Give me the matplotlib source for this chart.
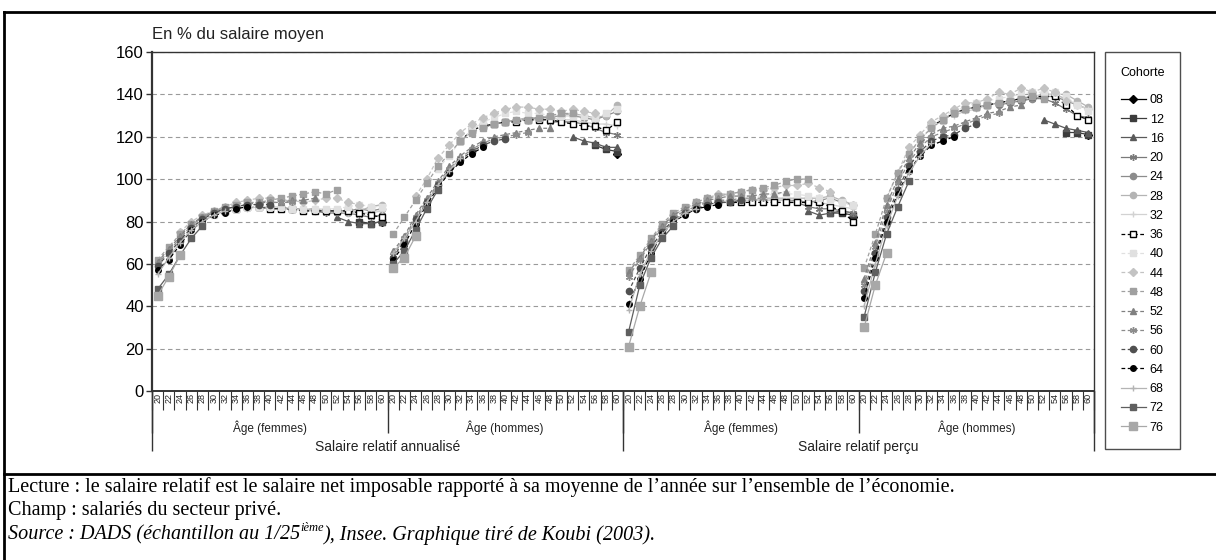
import numpy as np
import matplotlib
matplotlib.use('Agg')
import matplotlib.pyplot as plt
from matplotlib.lines import Line2D

plt.rcParams['font.family'] = ['Liberation Sans', 'DejaVu Sans']

# Cohorts (year of birth, 19xx) and first age index observed in each panel
COHORTS = ['08', '12', '16', '20', '24', '28', '32', '36', '40',
           '44', '48', '52', '56', '60', '64', '68', '72', '76']
START = [20, 18, 16, 14, 12, 10, 8, 6, 4, 2, 0, 0, 0, 0, 0, 0, 0, 0]

AGES = [20, 22, 24, 26, 28, 30, 32, 34, 36, 38, 40,
        42, 44, 46, 48, 50, 52, 54, 56, 58, 60]

PANEL_LABELS = ['Âge (femmes)', 'Âge (hommes)', 'Âge (femmes)', 'Âge (hommes)']
GROUP_LABELS = ['Salaire relatif annualisé', 'Salaire relatif perçu']

# Salaire relatif annualisé - femmes
ANNU_F = [
    [80],
    [80, 79, 80],
    [82, 80, 79, 79, 80],
    [85, 84, 84, 84, 83, 82, 83],
    [86, 86, 85, 85, 85, 85, 86, 85, 86],
    [87, 87, 86, 86, 86, 85, 85, 84, 85, 87, 88],
    [86, 87, 87, 86, 86, 85, 85, 85, 85, 84, 84, 84, 85],
    [85, 86, 87, 87, 86, 86, 86, 85, 85, 85, 85, 85, 84, 83, 82],
    [80, 83, 85, 86, 87, 87, 87, 87, 86, 86, 86, 86, 86, 87, 88, 87, 87],
    [75, 80, 83, 85, 87, 89, 90, 91, 91, 90, 90, 89, 90, 91, 91, 89, 88],
    [62, 68, 74, 79, 82, 85, 87, 88, 89, 89, 90, 91, 92, 93, 94, 93, 95],
    [61, 67, 73, 79, 82, 84, 86, 87, 88, 89, 89, 89, 90, 90, 91],
    [60, 66, 72, 78, 82, 85, 86, 87, 88, 88, 89, 89, 89],
    [59, 65, 71, 77, 81, 84, 86, 87, 88, 88, 88],
    [57, 62, 69, 76, 80, 83, 84, 86, 87],
    [55, 63, 70, 76, 80, 83, 85],
    [48, 55, 64, 72, 78],
    [45, 54, 64],
]

# Salaire relatif annualisé - hommes
ANNU_H = [
    [112],
    [116, 114, 113],
    [120, 118, 117, 115, 115],
    [127, 127, 127, 126, 124, 122, 121],
    [128, 129, 129, 130, 130, 129, 128, 130, 132],
    [127, 128, 129, 129, 130, 130, 131, 130, 129, 130, 135],
    [124, 126, 127, 128, 128, 128, 129, 128, 128, 127, 126, 126, 125],
    [118, 123, 125, 126, 127, 127, 128, 128, 128, 127, 126, 125, 125, 123, 127],
    [105, 111, 118, 123, 127, 129, 131, 132, 131, 131, 130, 130, 130, 130, 129, 131, 133],
    [92, 100, 110, 116, 122, 126, 129, 131, 133, 134, 134, 133, 133, 132, 133, 132, 131],
    [74, 82, 90, 98, 106, 112, 118, 122, 124, 126, 127, 128, 128, 129, 130, 131, 131],
    [66, 73, 83, 91, 99, 106, 111, 115, 118, 120, 121, 122, 123, 124, 124],
    [64, 72, 82, 90, 98, 105, 110, 114, 117, 119, 120, 121, 122],
    [63, 71, 81, 89, 97, 103, 109, 113, 116, 118, 119],
    [62, 69, 79, 88, 96, 103, 108, 112, 115],
    [65, 72, 80, 89, 97, 104, 110],
    [60, 66, 76, 86, 95],
    [58, 63, 73],
]

# Salaire relatif perçu - femmes
PERC_F = [
    [82],
    [84, 84, 83],
    [85, 83, 84, 85, 84],
    [89, 89, 87, 86, 86, 85, 84],
    [90, 90, 90, 90, 89, 90, 91, 89, 88],
    [90, 90, 91, 91, 91, 91, 91, 91, 92, 90, 88],
    [89, 90, 90, 90, 90, 90, 90, 89, 89, 89, 88, 87, 86],
    [88, 89, 89, 89, 89, 89, 89, 89, 89, 89, 89, 89, 87, 85, 80],
    [83, 86, 88, 89, 90, 91, 92, 92, 92, 93, 93, 93, 92, 91, 90, 89, 88],
    [71, 78, 83, 86, 89, 91, 93, 93, 94, 95, 95, 96, 97, 97, 98, 96, 94],
    [57, 64, 72, 79, 84, 87, 89, 91, 92, 93, 94, 95, 96, 97, 99, 100, 100],
    [56, 63, 71, 78, 83, 86, 88, 90, 91, 92, 92, 92, 93, 93, 94],
    [54, 62, 70, 77, 82, 85, 87, 89, 90, 90, 91, 91, 91],
    [47, 58, 68, 75, 81, 84, 86, 88, 89, 89, 90],
    [41, 53, 65, 74, 80, 83, 86, 87, 88],
    [38, 55, 66, 74, 80, 84, 86],
    [28, 50, 63, 72, 78],
    [21, 40, 56],
]

# Salaire relatif perçu - hommes
PERC_H = [
    [121],
    [122, 122, 121],
    [128, 126, 124, 123, 122],
    [137, 138, 138, 136, 133, 130, 129],
    [135, 136, 137, 138, 139, 139, 137, 135, 133],
    [134, 135, 136, 137, 138, 139, 140, 140, 140, 137, 134],
    [130, 132, 133, 135, 136, 137, 138, 139, 140, 140, 138, 135, 133],
    [125, 128, 131, 133, 134, 135, 136, 137, 138, 139, 139, 139, 135, 130, 128],
    [112, 118, 125, 129, 132, 134, 136, 137, 138, 139, 140, 141, 141, 141, 139, 135, 132],
    [91, 103, 115, 121, 127, 130, 133, 136, 136, 138, 141, 140, 143, 141, 143, 141, 137],
    [58, 74, 91, 103, 112, 119, 124, 128, 131, 133, 134, 135, 136, 137, 138, 139, 138],
    [53, 70, 88, 100, 110, 117, 121, 124, 125, 127, 129, 131, 132, 134, 135],
    [50, 68, 85, 98, 108, 115, 120, 122, 124, 126, 128, 130, 131],
    [47, 65, 82, 95, 106, 113, 118, 120, 121, 124, 126],
    [44, 63, 80, 93, 104, 111, 116, 118, 120],
    [40, 60, 78, 92, 103, 111, 117],
    [35, 56, 74, 87, 99],
    [30, 50, 65],
]

PANELS = [ANNU_F, ANNU_H, PERC_F, PERC_H]

# styles: colour, marker, linestyle, marker face, marker size
ASTER = (6, 2, 0)
STYLES = [
    ('#000000', 'D', '-', None, 4.0),
    ('#3c3c3c', 's', '-', None, 4.5),
    ('#5a5a5a', '^', '-', None, 4.5),
    ('#7a7a7a', ASTER, '-', None, 5.0),
    ('#8c8c8c', 'o', '-', None, 4.5),
    ('#b4b4b4', 'o', '-', None, 4.5),
    ('#d2d2d2', '+', '-', None, 5.0),
    ('#000000', 's', '--', 'white', 4.5),
    ('#e0e0e0', 's', '--', None, 5.0),
    ('#c3c3c3', 'D', '--', None, 4.5),
    ('#a0a0a0', 's', '--', None, 4.5),
    ('#808080', '^', '--', None, 4.5),
    ('#8c8c8c', ASTER, '--', None, 5.0),
    ('#505050', 'o', '--', None, 4.5),
    ('#000000', 'o', '--', None, 4.0),
    ('#b4b4b4', '+', '-', None, 5.0),
    ('#5f5f5f', 's', '-', None, 5.0),
    ('#a8a8a8', 's', '-', None, 5.5),
]

NCAT = len(AGES)
W, H = 1216, 560

fig = plt.figure(figsize=(W / 100, H / 100), dpi=100)
ax = fig.add_axes([152 / W, 1 - 391 / H, (1094 - 152) / W, (391 - 52) / H])

handles = []
for p, table in enumerate(PANELS):
    for i, vals in enumerate(table):
        col, mk, ls, mfc, ms = STYLES[i]
        x = np.arange(START[i], START[i] + len(vals)) + p * NCAT
        ln, = ax.plot(x, vals, color=col, linestyle=ls, lw=0.9,
                      marker=mk, markersize=ms,
                      markerfacecolor=mfc if mfc else col,
                      markeredgecolor=col, markeredgewidth=1.0,
                      dashes=(3, 2) if ls == '--' else (None, None),
                      zorder=3)
        if p == 0:
            handles.append(ln)

total = NCAT * len(PANELS)
ax.set_xlim(-0.5, total - 0.5)
ax.set_ylim(0, 160)
ax.set_yticks(range(0, 161, 20))
ax.yaxis.grid(True, linestyle=(0, (4, 3)), color='#9a9a9a', lw=0.8, zorder=0)
ax.tick_params(axis='y', labelsize=12, length=4, width=1, color='#333333', pad=2)
for s in ax.spines.values():
    s.set_color('#333333')
    s.set_linewidth(1.0)
ax.spines['left'].set_linewidth(1.6)
ax.spines['bottom'].set_linewidth(1.4)

ax.set_xticks(range(total))
ax.set_xticklabels([str(a) for a in AGES] * len(PANELS), rotation=90, fontsize=6.5)
ax.tick_params(axis='x', length=0, pad=1.5, labelcolor='#222222')

tr = ax.get_xaxis_transform()
bounds = np.arange(total + 1) - 0.5
ax.vlines(bounds, -0.055, 0, transform=tr, colors='#333333', lw=0.8, clip_on=False)
ax.vlines(bounds[::NCAT], -0.124, 0, transform=tr, colors='#333333', lw=1.0, clip_on=False)
ax.vlines(bounds[::2 * NCAT], -0.176, 0, transform=tr, colors='#333333', lw=1.0, clip_on=False)

for p, lab in enumerate(PANEL_LABELS):
    ax.text(p * NCAT + (NCAT - 1) / 2, -0.109, lab, transform=tr,
            ha='center', va='center', fontsize=8.5, color='#222222')
for g, lab in enumerate(GROUP_LABELS):
    ax.text(g * 2 * NCAT + NCAT - 0.5, -0.165, lab, transform=tr,
            ha='center', va='center', fontsize=10, color='#222222')

fig.text(152 / W, 1 - 35 / H, 'En % du salaire moyen', ha='left', va='center',
         fontsize=12, color='#222222')

leg = fig.legend(handles, COHORTS, title='Cohorte', loc='upper left',
                 bbox_to_anchor=(1105 / W, 1 - 52 / H), frameon=True,
                 fancybox=False, edgecolor='#222222', fontsize=9,
                 title_fontsize=9, handlelength=2.0, handletextpad=0.3,
                 labelspacing=0.58, borderpad=1.2, borderaxespad=0)
leg.get_frame().set_linewidth(1.0)
leg._legend_box.sep = 11

# outer box and separation with the notes
lk = dict(transform=fig.transFigure, color='black', lw=2)
fig.add_artist(Line2D([4 / W, 1], [1 - 12 / H, 1 - 12 / H], **lk))
fig.add_artist(Line2D([4 / W, 4 / W], [0, 1 - 12 / H], **lk))
fig.add_artist(Line2D([4 / W, 1], [1 - 474 / H, 1 - 474 / H], **lk))

serif = ['Liberation Serif', 'DejaVu Serif']
fs = 14.5
fig.text(8 / W, 1 - 487 / H,
         "Lecture : le salaire relatif est le salaire net imposable rapporté à sa moyenne "
         "de l\u2019année sur l\u2019ensemble de l\u2019économie.",
         family=serif, fontsize=fs, va='center', ha='left')
fig.text(8 / W, 1 - 511 / H, 'Champ : salariés du secteur privé.',
         family=serif, fontsize=fs, va='center', ha='left')

y_src = 1 - 535 / H
t1 = fig.text(8 / W, y_src, 'Source : DADS (échantillon au 1/25', family=serif,
              style='italic', fontsize=fs, va='center', ha='left')
fig.canvas.draw()
r = fig.canvas.get_renderer()
x1 = t1.get_window_extent(r).x1 / W
t2 = fig.text(x1, y_src + 7 / H, 'ième', family=serif, style='italic',
              fontsize=fs * 0.62, va='center', ha='left')
x2 = t2.get_window_extent(r).x1 / W
fig.text(x2, y_src, '), Insee. Graphique tiré de Koubi (2003).', family=serif,
         style='italic', fontsize=fs, va='center', ha='left')

fig.savefig('out.png', dpi=100)
